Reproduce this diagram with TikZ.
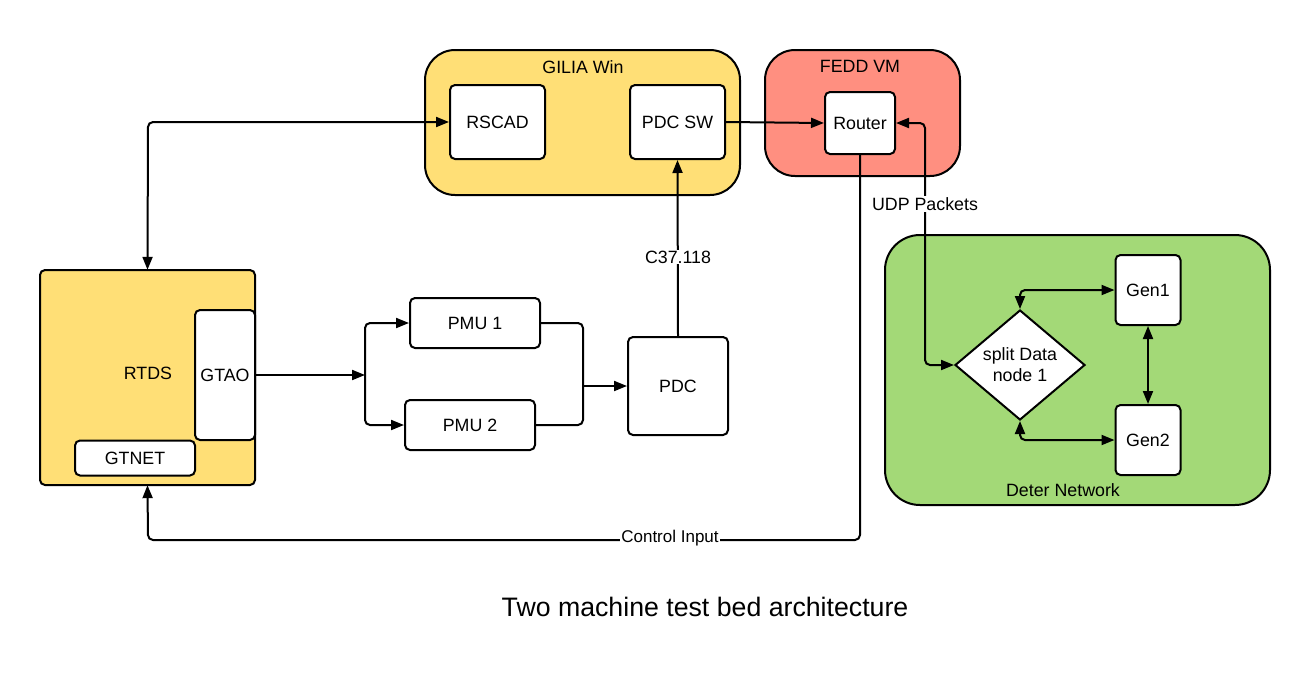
\documentclass[tikz,border=0pt]{standalone}
\usepackage{fontspec}
\setmainfont{Liberation Sans}
\usetikzlibrary{arrows.meta,shapes.geometric}
\definecolor{cyellow}{RGB}{255,223,118}
\definecolor{csalmon}{RGB}{255,143,128}
\definecolor{cgreen}{RGB}{163,217,119}
\tikzset{
  container/.style={draw, line width=2pt, rounded corners=30pt},
  blk/.style={draw, line width=2pt, fill=white, rounded corners=5pt, inner sep=0pt, align=center},
  lbl/.style={inner sep=1pt, align=center},
  conn/.style={line width=2pt, rounded corners=5pt},
  tip/.tip={Triangle[length=13pt,width=10pt]},
}
\begin{document}
\begin{tikzpicture}[x=1pt,y=-1pt,font=\fontsize{17.8}{21}\selectfont]
\useasboundingbox (0,0) rectangle (1310,673);
% containers
\draw[container, fill=cyellow] (425,50) rectangle (740,195);
\node[lbl] (gilia) at (583,67) {GILIA Win};
\draw[container, fill=csalmon] (765,50) rectangle (960,176);
\node[lbl] (fedd) at (860,66) {FEDD VM};
\draw[container, fill=cgreen, rounded corners=35pt] (885,235) rectangle (1270,505);
\node[lbl] (deter) at (1063,490) {Deter Network};
\draw[line width=2pt, fill=cyellow, rounded corners=5pt] (40,270) rectangle (255,485);
% nodes
\node[minimum width=215pt, minimum height=215pt, inner sep=0pt] (rtds) at (147.5,377.5) {};
\node[lbl] (rtdslbl) at (148,373) {RTDS};
\node[blk, minimum width=60pt, minimum height=130pt] (gtao) at (225,375) {GTAO};
\node[blk, minimum width=120pt, minimum height=35pt] (gtnet) at (135,458) {GTNET};
\node[blk, minimum width=95pt, minimum height=74pt] (rscad) at (497.5,122) {RSCAD};
\node[blk, minimum width=95pt, minimum height=74pt] (pdcsw) at (677.5,122) {PDC SW};
\node[blk, minimum width=70pt, minimum height=62pt] (router) at (860,123) {Router};
\node[blk, minimum width=130pt, minimum height=50pt] (pmu1) at (475,323) {PMU 1};
\node[blk, minimum width=130pt, minimum height=50pt] (pmu2) at (470,425) {PMU 2};
\node[blk, minimum width=100pt, minimum height=98pt] (pdc) at (678,386) {PDC};
\node[draw, line width=2pt, fill=white, diamond, minimum width=130pt, minimum height=110pt, inner sep=0pt, align=center] (split) at (1020,365) {split Data\\node 1};
\node[blk, minimum width=65pt, minimum height=70pt] (gen1) at (1148,290) {Gen1};
\node[blk, minimum width=65pt, minimum height=70pt] (gen2) at (1148,440) {Gen2};
% coordinates
\coordinate (c1) at (148,122);
\coordinate (u1) at (925,123);
\coordinate (u2) at (925,365);
\coordinate (d1) at (860,540);
\coordinate (d2) at (148,540);
\coordinate (sp) at (365,375);
\coordinate (mg) at (583,386);
% connectors
\draw[conn, tip-tip] (rtds.north) -- (c1) -- (rscad.west);
\draw[conn, -tip] (pdcsw.east) -- (router.west);
\draw[conn, tip-tip] (router.east) -- (u1) -- (u2) -- (split.west);
\node[lbl, fill=white] (udp) at (925,204) {UDP Packets};
\draw[conn, -tip] (router.south) -- (d1) -- (d2) -- (rtds.south);
\node[lbl, fill=white, font=\fontsize{17}{20}\selectfont] (ctrl) at (670,538) {Control Input};
\draw[conn, -tip] (gtao.east) -- (sp);
\draw[conn, -tip] (sp) |- (pmu1.west);
\draw[conn, -tip] (sp) |- (pmu2.west);
\draw[conn] (pmu1.east) -| (mg);
\draw[conn] (pmu2.east) -| (mg);
\draw[conn, -tip] (mg) -- (pdc.west);
\draw[conn, -tip] (pdc.north) -- (pdcsw.south);
\node[lbl, fill=white] (c37) at (678,257) {C37.118};
\draw[conn, tip-tip] (split.north) |- (gen1.west);
\draw[conn, tip-tip] (split.south) |- (gen2.west);
\draw[conn, tip-tip] (gen1.south) -- (gen2.north);
% title
\node[lbl, font=\fontsize{26.7}{32}\selectfont] (title) at (705,607) {Two machine test bed architecture};
\end{tikzpicture}
\end{document}
